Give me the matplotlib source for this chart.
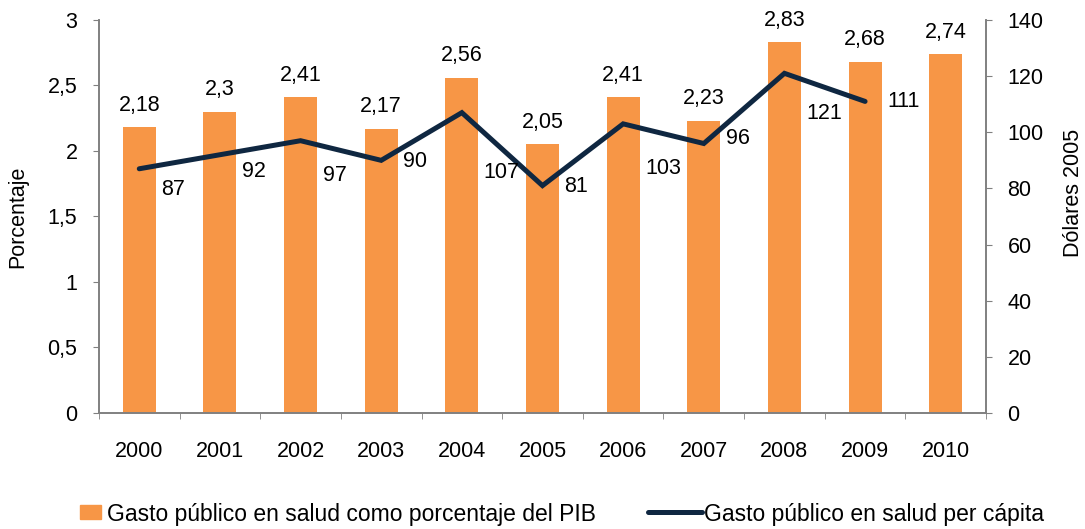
import numpy as np
import matplotlib.pyplot as plt
from matplotlib.lines import Line2D
from matplotlib.patches import Patch

plt.rcParams['font.family'] = ['Liberation Sans', 'DejaVu Sans']

years = ['2000', '2001', '2002', '2003', '2004', '2005', '2006', '2007', '2008', '2009', '2010']
pct_pib = [2.18, 2.3, 2.41, 2.17, 2.56, 2.05, 2.41, 2.23, 2.83, 2.68, 2.74]
per_capita = [87, 92, 97, 90, 107, 81, 103, 96, 121, 111, np.nan]

# where each per-capita label sits, in pixels below its point (as in the original)
label_drop = [21, 17, 35, 1, 60, 1, 45, -5, 40, 0, 0]

bar_color = '#F79646'
line_color = '#0F2741'
axis_color = '#808080'
fs = 15.5

fig = plt.figure(figsize=(10.85, 5.29), dpi=100)
ax = fig.add_axes([0.0912, 0.2193, 0.8176, 0.7429])
ax2 = ax.twinx()

x = np.arange(len(years))
ax.bar(x, pct_pib, width=0.41, color=bar_color, zorder=2)
for xi, v in zip(x, pct_pib):
    lbl = ('%g' % v).replace('.', ',')
    ax.annotate(lbl, (xi, v), xytext=(0, 22), textcoords='offset pixels',
                ha='center', va='center', fontsize=fs)

ax.set_xlim(-0.5, len(years) - 0.5)
ax.set_ylim(0, 3)
ax.set_yticks([0, 0.5, 1, 1.5, 2, 2.5, 3])
ax.set_yticklabels(['0', '0,5', '1', '1,5', '2', '2,5', '3'], fontsize=fs)
ax.set_xticks(x)
ax.set_xticklabels(years, fontsize=fs)
ax.set_xticks(np.arange(len(years) + 1) - 0.5, minor=True)
ax.tick_params(axis='x', which='major', length=0, pad=20)
ax.tick_params(axis='x', which='minor', length=4.5, color=axis_color, direction='out')
ax.tick_params(axis='y', length=4.5, color=axis_color, pad=11)
ax.set_ylabel('Porcentaje', fontsize=fs, labelpad=14)

ax2.plot(x, per_capita, color=line_color, lw=3.6, solid_capstyle='round',
         solid_joinstyle='miter', zorder=3)
for xi, v, d in zip(x, per_capita, label_drop):
    if not np.isnan(v):
        ax2.annotate('%d' % v, (xi, v), xytext=(22, -d), textcoords='offset pixels',
                     ha='left', va='center', fontsize=fs)
ax2.set_ylim(0, 140)
ax2.set_yticks(range(0, 141, 20))
ax2.tick_params(axis='y', labelsize=fs, length=4.5, color=axis_color, pad=11)
ax2.set_ylabel('Dólares 2005', fontsize=fs)
ax2.yaxis.set_label_coords(1.087, 0.56)

for a in (ax, ax2):
    a.spines['top'].set_visible(False)
    for s in ('left', 'right', 'bottom'):
        a.spines[s].set_color(axis_color)
        a.spines[s].set_linewidth(1.2)

leg_fs = 16.5
fig.legend([Patch(color=bar_color)], ['Gasto público en salud como porcentaje del PIB'],
           loc='center left', bbox_to_anchor=(80 / 1085, 1 - 514 / 529), frameon=False,
           fontsize=leg_fs, handlelength=0.92, handleheight=0.55, handletextpad=0.26,
           borderpad=0, borderaxespad=0)
fig.legend([Line2D([0], [0], color=line_color, lw=3.6, solid_capstyle='round')],
           ['Gasto público en salud per cápita'],
           loc='center left', bbox_to_anchor=(648 / 1085, 1 - 514 / 529), frameon=False,
           fontsize=leg_fs, handlelength=2.35, handletextpad=0.1,
           borderpad=0, borderaxespad=0)

fig.savefig('out.png', dpi=100)
